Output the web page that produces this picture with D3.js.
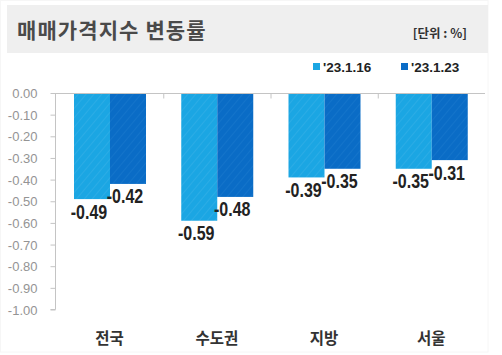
<!DOCTYPE html>
<html><head><meta charset="utf-8">
<script src="https://cdn.jsdelivr.net/npm/d3@7"></script>
<style>
html,body{margin:0;padding:0;background:#fff;}
svg{display:block;}
</style></head>
<body>
<script>
const categories = ["전국", "수도권", "지방", "서울"];
const seriesNames = ["'23.1.16", "'23.1.23"];
const values_0116 = [-0.49, -0.59, -0.39, -0.35];
const values_0123 = [-0.42, -0.48, -0.35, -0.31];
const yTicks = [0, -0.1, -0.2, -0.3, -0.4, -0.5, -0.6, -0.7, -0.8, -0.9, -1.0];
const titleText = "매매가격지수 변동률";
const unitText = "[단위 : %]";

const W = 502, H = 355;
const colors = ["#1ba6e3", "#0a6cc6"];
const stripe = ["#33afe7", "#1877cc"];
const series = [values_0116, values_0123];

const svg = d3.select("body").append("svg").attr("width", W).attr("height", H);
const defs = svg.append("defs");
colors.forEach((c, i) => {
  const p = defs.append("pattern").attr("id", "hatch" + i)
    .attr("patternUnits", "userSpaceOnUse").attr("width", 6).attr("height", 6)
    .attr("patternTransform", "rotate(40)");
  p.append("rect").attr("width", 6).attr("height", 6).attr("fill", c);
  p.append("line").attr("x1", 0).attr("y1", 0).attr("x2", 0).attr("y2", 6)
    .attr("stroke", stripe[i]).attr("stroke-width", 1.4);
});

// frame
svg.append("rect").attr("x", 0.5).attr("y", 0.5).attr("width", 487.5).attr("height", 351.5)
  .attr("fill", "none").attr("stroke", "#f6f6f6");

// title box
svg.append("rect").attr("x", 7).attr("y", 5).attr("width", 481).attr("height", 48).attr("fill", "#efefef");
svg.append("text").attr("x", 17).attr("y", 38).text(titleText)
  .attr("font-family", "'Noto Sans CJK KR'").attr("font-size", 21).attr("font-weight", 700)
  .attr("letter-spacing", 1.1)
  .attr("fill", "#4a4a4a");
svg.append("text").attr("x", 467).attr("y", 38).attr("text-anchor", "end").text(unitText)
  .attr("font-family", "'Noto Sans CJK KR'").attr("font-size", 12.5).attr("font-weight", 700)
  .attr("fill", "#333");

// legend
const legX = [313, 401];
seriesNames.forEach((s, i) => {
  svg.append("rect").attr("x", legX[i]).attr("y", 63).attr("width", 7).attr("height", 7).attr("fill", colors[i]);
  svg.append("text").attr("x", legX[i] + 10).attr("y", 72).text(s)
    .attr("font-family", "'Liberation Sans'").attr("font-size", 13.5).attr("font-weight", 700)
    .attr("fill", "#222");
});

// scales
const y = d3.scaleLinear().domain([-1, 0]).range([309.5, 93]);
const x = d3.scaleBand().domain(categories).range([56, 485]).padding(0);
const xs = d3.scaleBand().domain([0, 1]).range([18, 90]).padding(0);

// y axis
const yAxis = svg.append("g").attr("transform", "translate(55.5,0)")
  .call(d3.axisLeft(y).tickValues(yTicks).tickFormat(d3.format(".2f")).tickSize(5).tickPadding(13));
yAxis.select(".domain").attr("stroke", "#c4c4c4").attr("d", `M-5,${y(-1)}H0V${y(0)}`);
yAxis.selectAll(".tick line").attr("stroke", "#c4c4c4");
yAxis.selectAll(".tick text").attr("font-family", "'Liberation Sans'").attr("font-size", 13)
  .attr("fill", "#949494").attr("dy", "0.35em")
  .text(d => d3.format(".2f")(d).replace("−", "-"));

// bars
categories.forEach((c, ci) => {
  series.forEach((vals, si) => {
    svg.append("rect")
      .attr("x", x(c) + xs(si)).attr("y", y(0))
      .attr("width", xs.bandwidth()).attr("height", y(vals[ci]) - y(0))
      .attr("fill", `url(#hatch${si})`);
  });
});

// x axis at zero
const xAxis = svg.append("g").attr("transform", `translate(0,${y(0) + 0.5})`);
xAxis.append("line").attr("x1", 55).attr("x2", 485).attr("stroke", "#c4c4c4");
categories.forEach((c, ci) => {
  if (ci > 0) xAxis.append("line").attr("x1", x(c) + 0.5).attr("x2", x(c) + 0.5)
    .attr("y1", 0).attr("y2", 5).attr("stroke", "#c4c4c4");
});

// data labels (condensed bold)
categories.forEach((c, ci) => {
  series.forEach((vals, si) => {
    const cx = x(c) + xs(si) + xs.bandwidth() / 2 - 3;
    const cy = y(vals[ci]) + 19.5;
    svg.append("text")
      .attr("transform", `translate(${cx},${cy}) scale(0.8,1)`)
      .attr("text-anchor", "middle")
      .attr("font-family", "'Liberation Sans'").attr("font-size", 20).attr("font-weight", 700)
      .attr("fill", "#222")
      .text(d3.format(".2f")(vals[ci]).replace("−", "-"));
  });
});

// category labels
categories.forEach(c => {
  svg.append("text").attr("x", x(c) + x.bandwidth() / 2).attr("y", 344)
    .attr("text-anchor", "middle").text(c)
    .attr("font-family", "'Noto Sans CJK KR'").attr("font-size", 15.5).attr("font-weight", 700)
    .attr("fill", "#333");
});
</script>
</body></html>
